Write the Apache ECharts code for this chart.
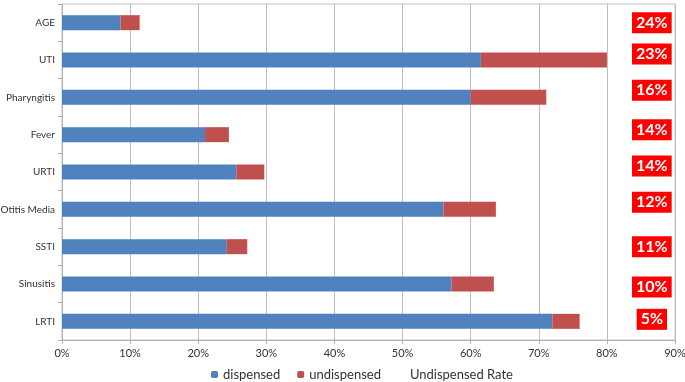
<!DOCTYPE html>
<html>
<head>
<meta charset="utf-8">
<script src="https://cdn.jsdelivr.net/npm/echarts@6/dist/echarts.min.js"></script>
<style>
  html, body { margin: 0; padding: 0; background: #fff; }
  #chart { width: 685px; height: 382px; }
</style>
</head>
<body>
<div id="chart"></div>
<script>
// values, in % of patients
const categories = ['AGE', 'UTI', 'Pharyngitis', 'Fever', 'URTI', 'Otitis Media', 'SSTI', 'Sinusitis', 'LRTI'];
const dispensed = [8.6, 61.5, 60.0, 21.0, 25.6, 56.0, 24.2, 57.2, 72.0];
const undispensed = [2.8, 18.5, 11.1, 3.5, 4.1, 7.7, 3.0, 6.2, 4.0];
const undispensedRate = [24, 23, 16, 14, 14, 12, 11, 10, 5];
const xTicks = [0, 10, 20, 30, 40, 50, 60, 70, 80, 90];

// the rate boxes sit in a column right of the bars, a bit off-centre
const RATE_X = 86.6;
const rateNudge = [0, -6, -7, -5, -6, -7, 0, 3, -2];

const FONT = 'Lato';
const chart = echarts.init(document.getElementById('chart'));

const rateData = categories.map((c, i) => ({
  value: [RATE_X, c, undispensedRate[i]],
  label: { offset: [0, rateNudge[i]] },
}));

chart.setOption({
  animation: false,
  textStyle: { fontFamily: FONT },
  grid: {
    left: 62, right: 10, top: 4, bottom: 42,
    outerBoundsMode: 'none',
    containLabel: false,
    show: true, borderColor: '#c4c4c4', borderWidth: 1,
  },
  legend: {
    top: 363,
    left: 206,
    itemWidth: 7,
    itemHeight: 7,
    itemGap: 17,
    textStyle: { fontFamily: FONT, fontSize: 13, color: '#333' },
    data: [
      { name: 'dispensed' },
      { name: 'undispensed' },
      { name: 'Undispensed Rate', itemStyle: { color: 'rgba(0,0,0,0)' } },
    ],
  },
  xAxis: {
    type: 'value',
    min: xTicks[0],
    max: xTicks[xTicks.length - 1],
    interval: 10,
    axisLine: { show: true, lineStyle: { color: '#b0b0b0' } },
    axisTick: { show: true, length: 4, lineStyle: { color: '#b0b0b0' } },
    axisLabel: { formatter: '{value}%', fontSize: 11, color: '#333', margin: 8, fontFamily: FONT },
    splitLine: { lineStyle: { color: '#bdbdbd' } },
  },
  yAxis: {
    type: 'category',
    data: categories,
    inverse: true,
    axisLine: { show: true, lineStyle: { color: '#b0b0b0' } },
    axisTick: { show: true, length: 4, lineStyle: { color: '#b0b0b0' } },
    axisLabel: { fontSize: 10, color: '#333', margin: 7, fontFamily: FONT },
  },
  series: [
    {
      name: 'dispensed',
      type: 'bar',
      stack: 'all',
      barWidth: 15,
      itemStyle: { color: '#4f81bd' },
      data: dispensed,
    },
    {
      name: 'undispensed',
      type: 'bar',
      stack: 'all',
      barWidth: 15,
      itemStyle: { color: '#c0504d' },
      data: undispensed,
    },
    {
      name: 'Undispensed Rate',
      type: 'scatter',
      symbolSize: 0,
      itemStyle: { color: 'rgba(0,0,0,0)' },
      label: {
        show: true,
        position: 'inside',
        formatter: (p) => p.value[2] + '%',
        backgroundColor: '#ff0000',
        color: '#fff',
        opacity: 1,
        fontWeight: 'bold',
        fontSize: 16,
        fontFamily: FONT,
        padding: [3, 4, 2, 4],
      },
      data: rateData,
    },
  ],
});
</script>
</body>
</html>
